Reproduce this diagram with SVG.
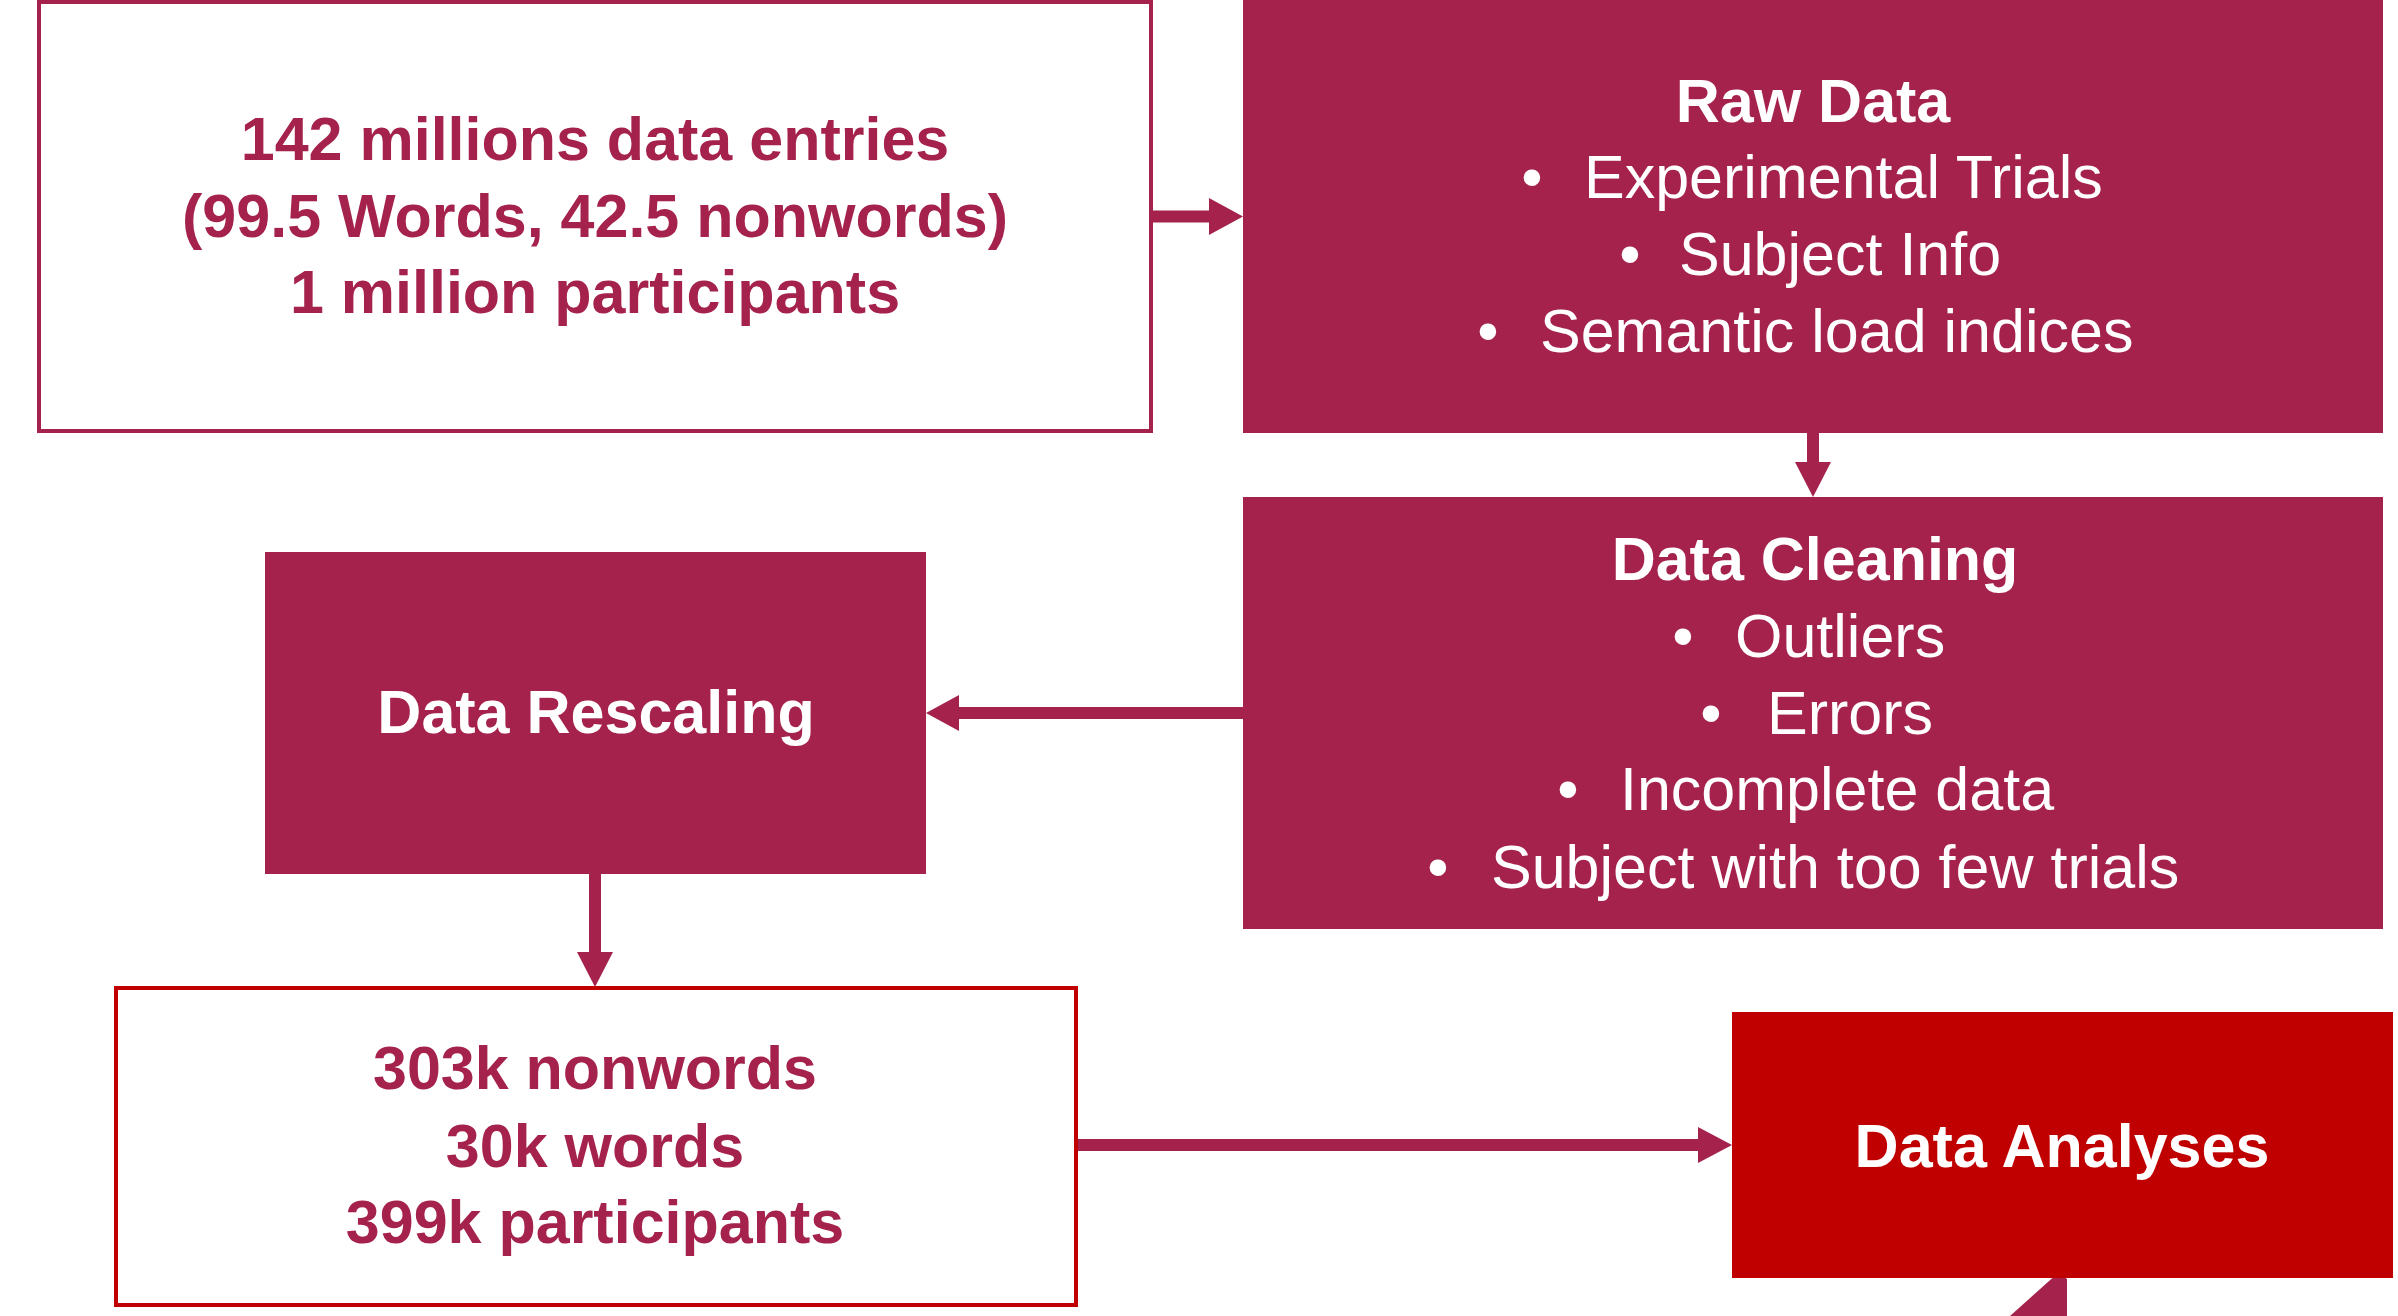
<svg xmlns="http://www.w3.org/2000/svg" width="2398" height="1316" viewBox="0 0 2398 1316">
<style>
text{font-family:"Liberation Sans",Arial,sans-serif;font-size:61px}
.b{font-weight:bold}
.w{fill:#ffffff}
.m{fill:#A5224C}
.c{text-anchor:middle}
.fill{fill:#A5224C}
.red{fill:#C00000}
.cn{fill:#A5224C;stroke:none}
</style>
<rect x="0" y="0" width="2398" height="1316" fill="#ffffff"/>
<g id="connectors">
  <rect class="cn" x="1151" y="210.5" width="60" height="12"/>
  <polygon class="cn" points="1209,198 1243,216.5 1209,235"/>
  <rect class="cn" x="1807" y="431" width="12" height="33"/>
  <polygon class="cn" points="1795,462 1831,462 1813,497"/>
  <rect class="cn" x="957" y="707" width="288" height="12"/>
  <polygon class="cn" points="959,695 959,731 926,713"/>
  <rect class="cn" x="589" y="872" width="12" height="82"/>
  <polygon class="cn" points="577,952 613,952 595,987"/>
  <rect class="cn" x="1076" y="1139" width="624" height="12"/>
  <polygon class="cn" points="1698,1127 1732,1145 1698,1163"/>
  <polygon class="cn" points="2058,1273 2067,1279 2067,1316 2010,1316"/>
</g>
<g id="node-input">
  <rect x="39" y="2" width="1112" height="429" fill="#ffffff" stroke="#A5224C" stroke-width="4"/>
  <text class="b m c" x="595" y="160">142 millions data entries</text>
  <text class="b m c" x="595" y="237">(99.5 Words, 42.5 nonwords)</text>
  <text class="b m c" x="595" y="313">1 million participants</text>
</g>
<g id="node-raw-data">
  <rect class="fill" x="1243" y="-2" width="1140" height="435"/>
  <text class="b w c" x="1813" y="122">Raw Data</text>
  <text class="w c" x="1532" y="198">•</text><text class="w" x="1584" y="198">Experimental Trials</text>
  <text class="w c" x="1630" y="275">•</text><text class="w" x="1679" y="275">Subject Info</text>
  <text class="w c" x="1488" y="352">•</text><text class="w" x="1540" y="352">Semantic load indices</text>
</g>
<g id="node-data-cleaning">
  <rect class="fill" x="1243" y="497" width="1140" height="432"/>
  <text class="b w c" x="1815" y="580">Data Cleaning</text>
  <text class="w c" x="1683" y="657">•</text><text class="w" x="1735" y="657">Outliers</text>
  <text class="w c" x="1711" y="734">•</text><text class="w" x="1767" y="734">Errors</text>
  <text class="w c" x="1568" y="810">•</text><text class="w" x="1620" y="810">Incomplete data</text>
  <text class="w c" x="1438" y="888">•</text><text class="w" x="1491" y="888">Subject with too few trials</text>
</g>
<g id="node-data-rescaling">
  <rect class="fill" x="265" y="552" width="661" height="322"/>
  <text class="b w c" x="596" y="733">Data Rescaling</text>
</g>
<g id="node-output">
  <rect x="116" y="988" width="960" height="317" fill="#ffffff" stroke="#C00000" stroke-width="4"/>
  <text class="b m c" x="595" y="1089">303k nonwords</text>
  <text class="b m c" x="595" y="1167">30k words</text>
  <text class="b m c" x="595" y="1243">399k participants</text>
</g>
<g id="node-data-analyses">
  <rect class="red" x="1732" y="1012" width="661" height="266"/>
  <text class="b w c" x="2062" y="1167">Data Analyses</text>
</g>
</svg>
